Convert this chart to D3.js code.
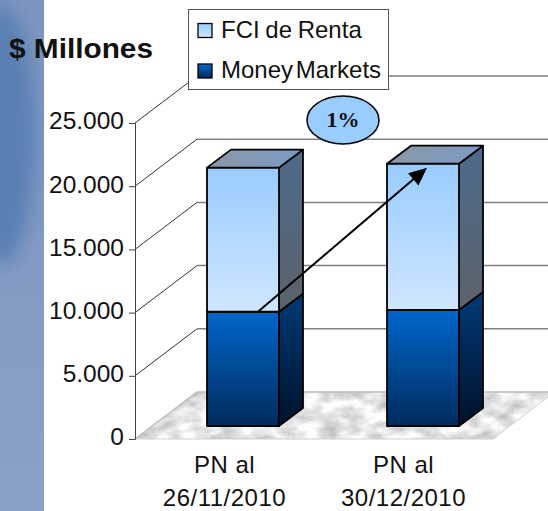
<!doctype html>
<html lang="en">
<head>
<meta charset="utf-8">
<title>$ Millones</title>
<script src="https://cdnjs.cloudflare.com/ajax/libs/d3/7.8.5/d3.min.js"></script>
<style>
    html, body { margin: 0; background: #fff; }
    svg { display: block; }
    text { font-family: "Liberation Sans", Arial, sans-serif; fill: #111; }
</style>
</head>
<body>
<script>
var categories = ["PN al|26/11/2010", "PN al|30/12/2010"];
var moneyMarkets = [9040, 9180];
var fciRenta = [11400, 11570];
var yTicks = [0, 5000, 10000, 15000, 20000, 25000];
var legendLabels = ["FCI de Renta", "Money Markets"];
var growthLabel = "1%";
var yTitle = "$ Millones";

var width = 548, height = 511;
var wallDx = 62, wallDy = 47;     // depth of the floor
var barDx = 24, barDy = 18;       // depth of one bar
var inDx = 17, inDy = 13;         // bars sit this far in from the front edge

var svg = d3.select("body").append("svg").attr("width", width).attr("height", height);
var defs = svg.append("defs");

function gradient(id, c1, c2, horizontal) {
    var g = defs.append("linearGradient").attr("id", id)
        .attr("x1", 0).attr("y1", 0)
        .attr("x2", horizontal ? 1 : 0).attr("y2", horizontal ? 0 : 1);
    g.append("stop").attr("offset", "0%").attr("stop-color", c1);
    g.append("stop").attr("offset", "100%").attr("stop-color", c2);
}
gradient("fciFront", "#99ccff", "#cfe6ff");
gradient("fciSide", "#4d6a8c", "#5c626a");
gradient("fciTop", "#8c96a4", "#7a9cc6", true);
gradient("mmFront", "#0066cc", "#002b5c");
gradient("mmSide", "#003a78", "#00122a");
gradient("band", "#7c95bf", "#8aa0c8");
defs.append("filter").attr("id", "blur").attr("x", "-100%").attr("width", "300%")
    .attr("y", "-30%").attr("height", "160%")
    .append("feGaussianBlur").attr("stdDeviation", 9);
defs.append("clipPath").attr("id", "bandClip").append("rect").attr("width", 44).attr("height", height);

// marble look of the floor
var marble = defs.append("filter").attr("id", "marble").attr("x", 0).attr("y", 0).attr("width", 1).attr("height", 1)
    .attr("color-interpolation-filters", "sRGB");
marble.append("feTurbulence").attr("type", "fractalNoise").attr("baseFrequency", "0.05 0.09")
    .attr("numOctaves", 3).attr("seed", 4);
marble.append("feColorMatrix").attr("type", "matrix")
    .attr("values", "0.45 0 0 0 0.68  0.45 0 0 0 0.68  0.45 0 0 0 0.69  0 0 0 0 1");

// slide background strip
var strip = svg.append("g").attr("clip-path", "url(#bandClip)");
strip.append("rect").attr("width", 44).attr("height", height).attr("fill", "url(#band)");
strip.append("ellipse").attr("cx", 2).attr("cy", 135).attr("rx", 34).attr("ry", 130)
    .attr("fill", "#5a80b3").attr("filter", "url(#blur)");

var y = d3.scaleLinear().domain([0, 25000]).range([439, 123]);
var x = d3.scaleBand().domain(categories).range([136, 496]).paddingInner(0.6).paddingOuter(0.3);
var xAxisScale = d3.scaleBand().domain(categories).range([135, 493]);

// floor
var floor = svg.append("g");
var floorPts = [[135, y(0)], [135 + wallDx, y(0) - wallDy], [width, y(0) - wallDy],
                [width, y(0) - wallDy + 5], [493, y(0)]];
floor.append("clipPath").attr("id", "floorClip").append("polygon").attr("points", floorPts.join(" "));
floor.append("g").attr("clip-path", "url(#floorClip)").append("rect")
    .attr("x", 135).attr("y", y(0) - wallDy).attr("width", width - 135).attr("height", wallDy)
    .attr("filter", "url(#marble)");
floor.append("path").attr("d", "M135," + y(0) + "L197," + (y(0) - wallDy) + "H" + width)
    .attr("fill", "none").attr("stroke", "#bdbdbd").attr("stroke-width", 1.5);
floor.append("path").attr("d", "M135," + y(0) + "H493L" + width + "," + (y(0) - wallDy + 5))
    .attr("fill", "none").attr("stroke", "#d0d0d0").attr("stroke-width", 1);

// gridlines on side and back wall
var grid = svg.append("g").selectAll("g").data(yTicks.slice(1)).enter().append("g");
grid.append("line")
    .attr("x1", 135).attr("y1", function(d){return y(d);})
    .attr("x2", 135 + wallDx).attr("y2", function(d){return y(d) - wallDy;})
    .attr("stroke", "#333").attr("stroke-width", 1);
grid.append("line")
    .attr("x1", 135 + wallDx).attr("y1", function(d){return y(d) - wallDy;})
    .attr("x2", width).attr("y2", function(d){return y(d) - wallDy;})
    .attr("stroke", "#808080").attr("stroke-width", 1.5);

// y axis
var fmt = d3.formatLocale({decimal: ",", thousands: ".", grouping: [3], currency: ["$", ""]}).format(",");
var yAxis = svg.append("g").attr("transform", "translate(135,0)")
    .call(d3.axisLeft(y).tickValues(yTicks).tickFormat(fmt).tickSize(6).tickPadding(5));
yAxis.selectAll("path, line").attr("stroke", "#444").attr("stroke-width", 1);
yAxis.selectAll("text").attr("font-size", 24.5).attr("font-family", null).attr("dy", "0.24em");

// x axis labels, two lines each
var xAxis = svg.append("g").attr("transform", "translate(0,439)")
    .call(d3.axisBottom(xAxisScale).tickSize(0).tickFormat(""));
xAxis.select("path").remove();
xAxis.selectAll(".tick").append("text")
    .attr("text-anchor", "middle").attr("font-size", 24)
    .selectAll("tspan").data(function(d){return d.split("|");}).enter().append("tspan")
    .attr("x", 0).attr("y", function(d, i){return 34 + i * 33;})
    .attr("letter-spacing", 0.5)
    .text(function(d){return d;});

// bars, stacked
function barY(v) { return y(v) - inDy; }
function barX(c) { return x(c) + inDx; }
var bw = x.bandwidth();
var bars = svg.append("g").selectAll("g").data(categories).enter().append("g")
    .attr("stroke", "#000").attr("stroke-width", 1.8).attr("stroke-linejoin", "round");

function segment(sel, lo, hi, front, side) {
    sel.append("polygon").attr("fill", "url(#" + side + ")")
        .attr("points", function(c, i){
            var r = barX(c) + bw, b = barY(lo(i)), t = barY(hi(i));
            return [[r, b], [r + barDx, b - barDy], [r + barDx, t - barDy], [r, t]].join(" ");
        });
    sel.append("rect").attr("fill", "url(#" + front + ")")
        .attr("x", barX).attr("width", bw)
        .attr("y", function(c, i){return barY(hi(i));})
        .attr("height", function(c, i){return barY(lo(i)) - barY(hi(i));});
}
segment(bars, function(){return 0;}, function(i){return moneyMarkets[i];}, "mmFront", "mmSide");
segment(bars, function(i){return moneyMarkets[i];}, function(i){return moneyMarkets[i] + fciRenta[i];}, "fciFront", "fciSide");
bars.append("polygon").attr("fill", "url(#fciTop)")
    .attr("points", function(c, i){
        var l = barX(c), t = barY(moneyMarkets[i] + fciRenta[i]);
        return [[l, t], [l + bw, t], [l + bw + barDx, t - barDy], [l + barDx, t - barDy]].join(" ");
    });

// growth arrow from first to second bar
var ax1 = barX(categories[0]) + 51, ay1 = barY(moneyMarkets[0]);
var ax2 = barX(categories[1]) + 40, ay2 = barY(moneyMarkets[1] + fciRenta[1]) + 4;
var angle = Math.atan2(ay2 - ay1, ax2 - ax1);
svg.append("line").attr("x1", ax1).attr("y1", ay1)
    .attr("x2", ax2 - 14 * Math.cos(angle)).attr("y2", ay2 - 14 * Math.sin(angle))
    .attr("stroke", "#000").attr("stroke-width", 2);
svg.append("path").attr("transform", "translate(" + ax2 + "," + ay2 + ") rotate(" + angle * 180 / Math.PI + ")")
    .attr("d", "M0,0L-18,-8L-18,8Z").attr("fill", "#000");

// growth bubble
svg.append("ellipse").attr("cx", 343).attr("cy", 120).attr("rx", 36).attr("ry", 24)
    .attr("fill", "#99ccff").attr("stroke", "#000").attr("stroke-width", 1.5);
svg.append("text").attr("x", 343).attr("y", 127).attr("text-anchor", "middle")
    .style("font-family", "'Liberation Serif', serif").attr("font-weight", "bold").attr("font-size", 22)
    .text(growthLabel);

// legend
var legend = svg.append("g");
legend.append("rect").attr("x", 188.5).attr("y", 9.5).attr("width", 200).attr("height", 80)
    .attr("fill", "#fff").attr("stroke", "#555").attr("stroke-width", 1);
var legendFills = ["fciFront", "mmFront"];
var legendWordGap = [-1, -4];
var items = legend.selectAll(".item").data(legendLabels).enter().append("g").attr("class", "item")
    .attr("transform", function(d, i){return "translate(198," + (23.5 + i * 40.5) + ")";});
items.append("rect").attr("width", 14).attr("height", 14)
    .attr("fill", function(d, i){return "url(#" + legendFills[i] + ")";})
    .attr("stroke", "#000").attr("stroke-width", 1.3);
items.append("text").attr("x", 23).attr("y", 14).attr("font-size", 24)
    .attr("word-spacing", function(d, i){return legendWordGap[i];})
    .text(function(d){return d;});

// title
svg.append("text").attr("x", 9).attr("y", 58).attr("font-weight", "bold").attr("font-size", 28)
    .attr("textLength", 144).attr("lengthAdjust", "spacingAndGlyphs").text(yTitle);
</script>
</body>
</html>
